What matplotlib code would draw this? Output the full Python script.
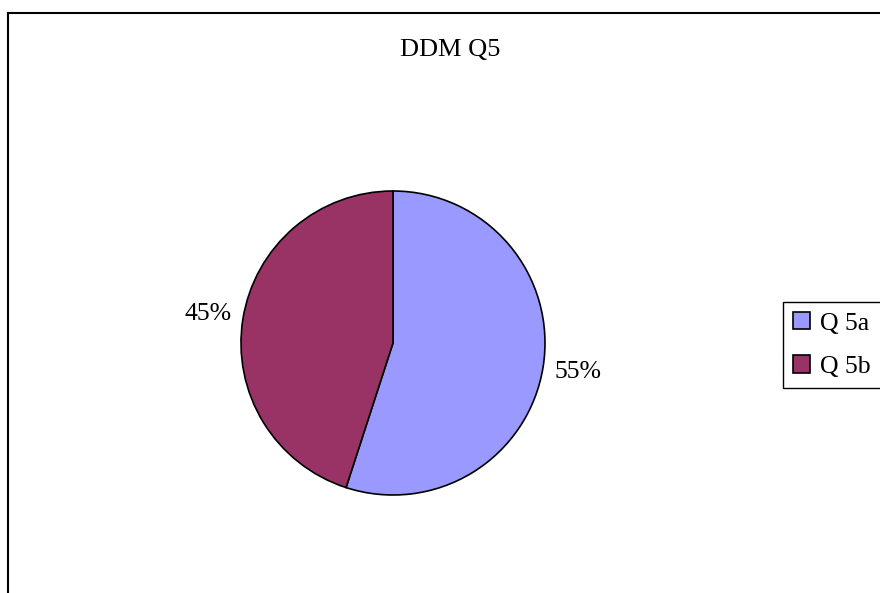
import matplotlib.pyplot as plt
from matplotlib.lines import Line2D

# data
labels = ["Q 5a", "Q 5b"]
values = [55, 45]
colors = ["#9999FF", "#993366"]
title = "DDM Q5"

plt.rcParams['font.family'] = ['Liberation Serif', 'DejaVu Serif']

W, H = 880, 593
fig = plt.figure(figsize=(W / 100, H / 100), dpi=100)

# chart border (left and top edges visible)
fig.add_artist(Line2D([8 / W, 8 / W], [0, 1 - 13 / H], color="black", lw=1.5,
                      transform=fig.transFigure))
fig.add_artist(Line2D([8 / W, 1], [1 - 13 / H, 1 - 13 / H], color="black", lw=1.5,
                      transform=fig.transFigure))

fig.text(450 / W, 1 - 50 / H, title, ha="center", va="center", fontsize=19)

# pie area
cx, cy, r = 393, 343, 152
ax = fig.add_axes([(cx - r) / W, (H - cy - r) / H, 2 * r / W, 2 * r / H])
wedges, texts = ax.pie(values, colors=colors, startangle=90, counterclock=False,
                       labels=[f"{v}%" for v in values], labeldistance=1.23,
                       wedgeprops=dict(edgecolor="black", linewidth=1.2),
                       textprops=dict(fontsize=18.5))
for t in texts:
    t.set_ha("center")
    t.set_va("center")
ax.set_xlim(-1, 1)
ax.set_ylim(-1, 1)
ax.set_aspect("equal")

leg = fig.legend(wedges, labels, loc="upper left",
                 bbox_to_anchor=(783 / W, 1 - 302 / H), fontsize=18.5,
                 frameon=True, fancybox=False, edgecolor="black", framealpha=1,
                 handlelength=0.65, handleheight=0.65, handletextpad=0.4,
                 borderpad=0.4, labelspacing=0.8, borderaxespad=0)
leg.get_frame().set_linewidth(1.0)

fig.savefig("out.png", dpi=100)
